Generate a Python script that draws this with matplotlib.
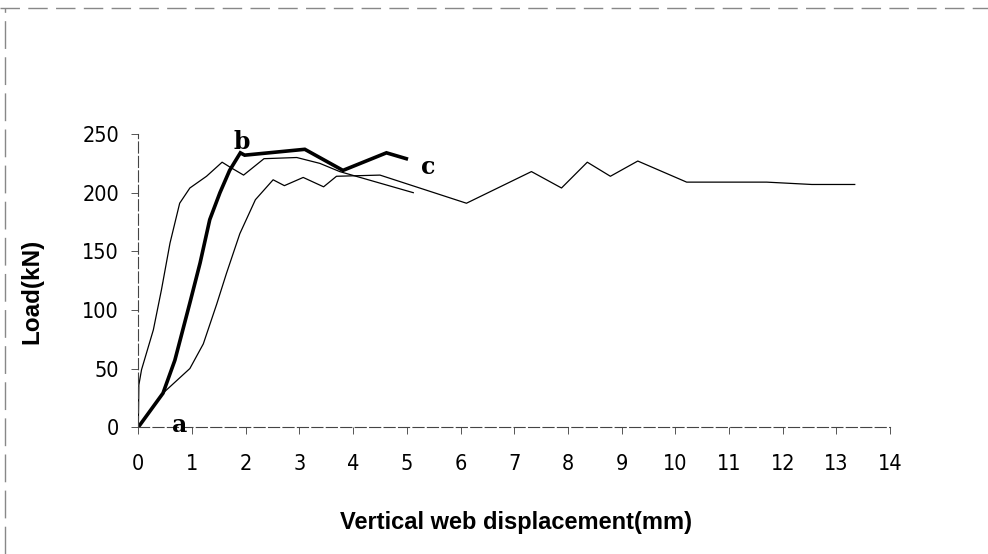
import matplotlib
matplotlib.use("Agg")
import matplotlib.pyplot as plt
from matplotlib.lines import Line2D

# curva gruesa a-b-c
x_abc = [0, 0.46, 0.68, 0.96, 1.15, 1.33, 1.52, 1.70, 1.90, 1.98, 3.10, 3.81, 4.62, 4.99]
y_abc = [0, 29, 57, 106, 140, 177, 200, 219, 234, 232, 237, 219, 234, 229]

# curva delgada izquierda
x_c1 = [0, 0.01, 0.06, 0.28, 0.43, 0.59, 0.77, 0.96, 1.27, 1.56, 1.70, 1.96, 2.34, 2.95, 3.38, 3.75, 5.12]
y_c1 = [0, 36, 49, 83, 117, 157, 191, 204, 214, 226, 222, 215, 229, 230, 225, 218, 200]

# curva delgada derecha (larga)
x_c2 = [0, 0.46, 0.96, 1.21, 1.46, 1.64, 1.89, 2.18, 2.51, 2.72, 3.07, 3.45, 3.69, 4.50,
        6.11, 7.32, 7.88, 8.36, 8.79, 9.30, 10.21, 11.14, 11.70, 12.54, 13.34]
y_c2 = [0, 29, 50, 71, 105, 131, 165, 194, 211, 206, 213, 205, 214, 215,
        191, 218, 204, 226, 214, 227, 209, 209, 209, 207, 207]

xticks = list(range(0, 15))
yticks = [0, 50, 100, 150, 200, 250]

fuente = ['DejaVu Sans']

fig = plt.figure(figsize=(9.88, 5.54), dpi=100)
ax = fig.add_axes([0.140, 0.229, 0.761, 0.529])

ax.plot(x_c1, y_c1, color='black', lw=0.9)
ax.plot(x_c2, y_c2, color='black', lw=0.9)
ax.plot(x_abc, y_abc, color='black', lw=2.6, solid_joinstyle='miter')

ax.text(0.77, 2, 'a', family='DejaVu Serif', fontweight='bold', fontsize=17, ha='center', va='center')
ax.text(1.92, 243, 'b', family='DejaVu Serif', fontweight='bold', fontsize=17, ha='center', va='center')
ax.text(5.40, 222, 'c', family='DejaVu Serif', fontweight='bold', fontsize=17, ha='center', va='center')

ax.set_xlim(0, 14)
ax.set_ylim(0, 250)
ax.set_xticks(xticks)
ax.set_yticks(yticks)
ax.set_xticklabels([str(t) for t in xticks], family=fuente, fontsize=15.5, fontstretch='condensed')
ax.set_yticklabels([str(t) for t in yticks], family=fuente, fontsize=15.5, fontstretch='condensed')
ax.tick_params(direction='out', length=5, width=0.7, color='#555555')
ax.tick_params(axis='x', pad=14)
ax.tick_params(axis='y', pad=9)

for s in ['top', 'right']:
    ax.spines[s].set_visible(False)
for s in ['left', 'bottom']:
    ax.spines[s].set_color('#444444')
    ax.spines[s].set_linewidth(0.8)
    ax.spines[s].set_linestyle((0, (10, 3)))

ax.set_xlabel('Vertical web displacement(mm)', family=['Liberation Sans', 'DejaVu Sans'],
              fontweight='bold', fontsize=17, va='center')
ax.set_ylabel('Load(kN)', family=['Liberation Sans', 'DejaVu Sans'],
              fontweight='bold', fontsize=17.5, va='center')
ax.xaxis.set_label_coords(516 / 988, 1 - 523 / 554, transform=fig.transFigure)
ax.yaxis.set_label_coords(32 / 988, 1 - 291 / 554, transform=fig.transFigure)

# borde escaneado de la figura
fig.add_artist(Line2D([0.0, 1.0], [0.985, 0.985], transform=fig.transFigure,
                      color='#888888', lw=1.0, linestyle=(0, (14, 6))))
fig.add_artist(Line2D([0.005, 0.005], [0.0, 0.985], transform=fig.transFigure,
                      color='#888888', lw=1.0, linestyle=(0, (20, 6))))

fig.savefig('out.png', dpi=100, facecolor='white')
